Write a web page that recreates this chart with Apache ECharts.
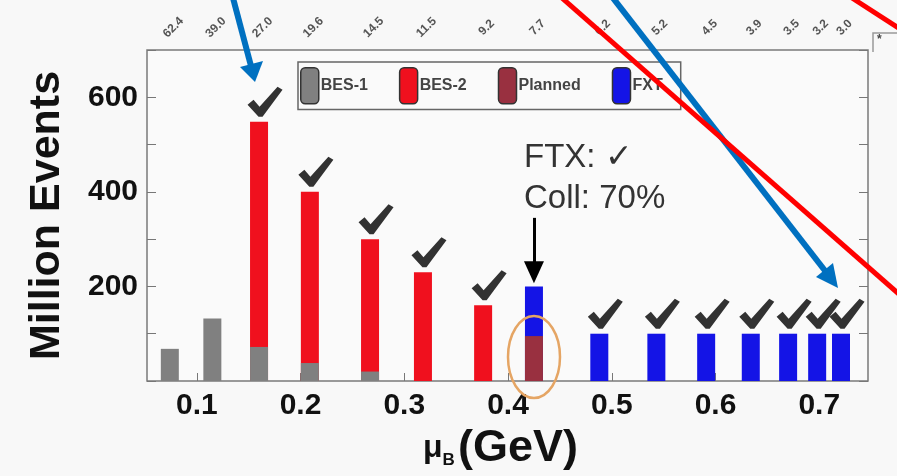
<!DOCTYPE html>
<html>
<head>
<meta charset="utf-8">
<script src="https://cdn.jsdelivr.net/npm/echarts@6/dist/echarts.min.js"></script>
<style>
html, body { margin: 0; padding: 0; background: #f8f8f8; }
#main { width: 897px; height: 476px; }
</style>
</head>
<body>
<div id="main"></div>
<script>
// collision energies (top labels) and matching mu_B positions
var energies = ['62.4', '39.0', '27.0', '19.6', '14.5', '11.5', '9.2', '7.7', '6.2', '5.2', '4.5', '3.9', '3.5', '3.2', '3.0'];
var muB = [0.074, 0.115, 0.160, 0.209, 0.267, 0.318, 0.376, 0.425, 0.488, 0.543, 0.591, 0.634, 0.670, 0.698, 0.721];

// million events per program
var bes1    = [68, 132, 72, 38, 20, 0, 0, 0, 0, 0, 0, 0, 0, 0, 0];
var bes2    = [0, 0, 476, 362, 280, 230, 160, 0, 0, 0, 0, 0, 0, 0, 0];
var planned = [0, 0, 0, 0, 0, 0, 0, 95, 0, 0, 0, 0, 0, 0, 0];
var fxt     = [0, 0, 0, 0, 0, 0, 0, 105, 100, 100, 100, 100, 100, 100, 100];
var checked = [0, 0, 1, 1, 1, 1, 1, 0, 1, 1, 1, 1, 1, 1, 1];

var xTickLabels = [0.1, 0.2, 0.3, 0.4, 0.5, 0.6, 0.7];
var yTickLabels = [200, 400, 600];

// stacked by hand: each bar is drawn from 0 up to its cumulative top,
// lower programs are drawn later so they sit on top
var layers = [bes1, bes2, planned, fxt];
function cumulative(k) {
	return muB.map(function (x, i) {
		if (!layers[k][i]) return [x, '-'];
		var s = 0;
		for (var j = 0; j <= k; j++) s += layers[j][i];
		return [x, s];
	});
}

var checkData = [];
for (var i = 0; i < muB.length; i++) {
	if (checked[i]) {
		checkData.push([muB[i], bes1[i] + bes2[i] + planned[i] + fxt[i]]);
	}
}

// heavy tick mark, drawn as a symbol above the finished runs
var checkPath = 'path://M0,18 L6,13 L12,20 L30,0 L35,3 L15,30 L11,30 Z';

var chart = echarts.init(document.getElementById('main'));

var barBase = { type: 'bar', barWidth: 18, barGap: '-100%' };

var option = {
	backgroundColor: '#f8f8f8',
	animation: false,
	textStyle: { fontFamily: 'Liberation Sans' },
	grid: {
		left: 147, right: 29, top: 50, bottom: 95,
		show: true, borderColor: '#7a7a7a', borderWidth: 1.5, backgroundColor: '#fafafa'
	},
	legend: {
		data: ['BES-1', 'BES-2', 'Planned', 'FXT'],
		left: 298, top: 62,
		icon: 'roundRect',
		itemWidth: 18, itemHeight: 36, itemGap: 31,
		padding: [5, 18, 5, 2],
		borderColor: '#666', borderWidth: 1.5, backgroundColor: '#fafafa',
		itemStyle: { borderColor: '#333', borderWidth: 1.5 },
		textStyle: { fontSize: 16, fontWeight: 'bold', color: '#444', padding: [0, 0, 0, -3] }
	},
	xAxis: [{
		type: 'value', min: 0.052, max: 0.747, position: 'bottom',
		axisLine: { show: false },
		axisTick: { inside: true, length: 8, customValues: xTickLabels, lineStyle: { color: '#777' } },
		axisLabel: { customValues: xTickLabels, fontSize: 30, fontWeight: 'bold', color: '#111', margin: 10 },
		splitLine: { show: false },
		name: '{mu|μ}{sub|B} {n|(GeV)}',
		nameLocation: 'middle', nameGap: 36,
		nameTextStyle: {
			rich: {
				mu: { fontSize: 32, fontWeight: 'bold', color: '#111' },
				sub: { fontSize: 17, fontWeight: 'bold', color: '#111', padding: [24, 0, 0, 0] },
				n: { fontSize: 45, fontWeight: 'bold', color: '#111', padding: [0, 14, 0, 0] }
			}
		}
	}, {
		type: 'value', min: 0.052, max: 0.747, position: 'top',
		axisLine: { show: false },
		axisTick: { show: false },
		axisLabel: {
			customValues: muB, rotate: 45, margin: 19,
			align: 'center', verticalAlign: 'middle', padding: [0, 0, 0, 10],
			fontSize: 12, fontWeight: 'bold', color: '#555',
			formatter: function (v) {
				var k = 0;
				for (var j = 0; j < muB.length; j++) {
					if (Math.abs(muB[j] - v) < Math.abs(muB[k] - v)) k = j;
				}
				return energies[k];
			}
		},
		splitLine: { show: false }
	}],
	yAxis: [{
		type: 'value', min: 0, max: 700, interval: 100,
		axisLine: { show: false },
		axisTick: { inside: true, length: 9, lineStyle: { color: '#777' } },
		axisLabel: { customValues: yTickLabels, fontSize: 30, fontWeight: 'bold', color: '#111', margin: 9 },
		splitLine: { show: false },
		name: 'Million Events', nameLocation: 'middle', nameGap: 78,
		nameTextStyle: { fontSize: 43, fontWeight: 'bold', color: '#111' }
	}, {
		type: 'value', min: 0, max: 700, interval: 100, position: 'right',
		axisLine: { show: false },
		axisTick: { inside: true, length: 9, lineStyle: { color: '#777' } },
		axisLabel: { show: false },
		splitLine: { show: false }
	}],
	series: [
		Object.assign({
			name: 'FXT', data: cumulative(3), itemStyle: { color: '#1414e6' },
			markLine: {
				silent: true, symbol: ['none', 'triangle'], symbolSize: [20, 22],
				label: { show: false },
				lineStyle: { color: '#000', width: 3, type: 'solid' },
				data: [[{ coord: [0.425, 345] }, { coord: [0.425, 230] }]]
			}
		}, barBase),
		Object.assign({ name: 'Planned', data: cumulative(2), itemStyle: { color: '#993040' } }, barBase),
		Object.assign({ name: 'BES-2', data: cumulative(1), itemStyle: { color: '#f0101e' } }, barBase),
		Object.assign({ name: 'BES-1', data: cumulative(0), itemStyle: { color: '#808080' } }, barBase),
		{
			name: 'done', type: 'scatter', data: checkData, silent: true, z: 5,
			symbol: checkPath, symbolSize: [35, 30], symbolOffset: [6, -20],
			itemStyle: { color: '#000' }
		}
	],
	graphic: [
		{ type: 'ellipse', z: 100, shape: { cx: 534, cy: 357, rx: 26, ry: 41 }, style: { fill: 'none', stroke: '#e5a564', lineWidth: 2.5 } },
		{ type: 'text', z: 100, left: 524, top: 137, style: { text: 'FTX: ✓\nColl: 70%', font: '33px "Liberation Sans"', lineHeight: 41, fill: '#333' } },
		{ type: 'polyline', z: 100, shape: { points: [[873, 52], [873, 33], [897, 33]] }, style: { stroke: '#999', lineWidth: 1.5, fill: 'none' } },
		{ type: 'text', z: 100, left: 877, top: 34, style: { text: '*', font: 'bold 12px "Liberation Sans"', fill: '#444' } },
		{ type: 'line', z: 110, shape: { x1: 233, y1: -2, x2: 251, y2: 66 }, style: { stroke: '#0070c0', lineWidth: 6 } },
		{ type: 'polygon', z: 110, shape: { points: [[263, 61], [240, 67], [255, 82]] }, style: { fill: '#0070c0' } },
		{ type: 'line', z: 110, shape: { x1: 613, y1: -2, x2: 826, y2: 272 }, style: { stroke: '#0070c0', lineWidth: 6 } },
		{ type: 'polygon', z: 110, shape: { points: [[833, 263], [816, 277], [838, 288]] }, style: { fill: '#0070c0' } },
		{ type: 'line', z: 120, shape: { x1: 562, y1: -2, x2: 900, y2: 295 }, style: { stroke: '#ff0000', lineWidth: 5 } },
		{ type: 'line', z: 120, shape: { x1: 852, y1: -2, x2: 900, y2: 29 }, style: { stroke: '#ff0000', lineWidth: 5 } }
	]
};

chart.setOption(option);
</script>
</body>
</html>
